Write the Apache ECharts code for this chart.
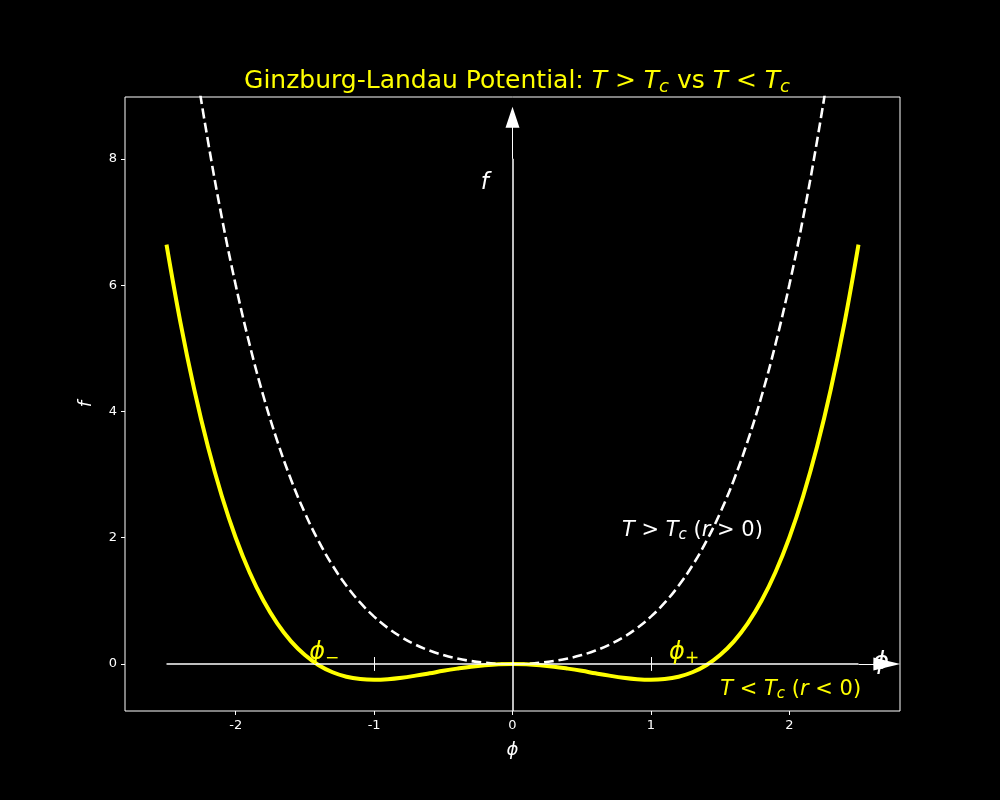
<!DOCTYPE html>
<html>
<head>
<meta charset="utf-8">
<script src="https://cdn.jsdelivr.net/npm/echarts@6/dist/echarts.min.js"></script>
<style>
  html, body { margin: 0; padding: 0; background: #000; }
  #main { width: 1000px; height: 800px; }
</style>
</head>
<body>
<div id="main"></div>
<script>
// order parameter values (x)
const phi = [-2.5, -2.4, -2.3, -2.2, -2.1, -2.0, -1.9, -1.8, -1.7, -1.6, -1.5, -1.4, -1.3, -1.2, -1.1, -1.0,
  -0.9, -0.8, -0.7, -0.6, -0.5, -0.4, -0.3, -0.2, -0.1, 0, 0.1, 0.2, 0.3, 0.4, 0.5, 0.6, 0.7, 0.8, 0.9,
  1.0, 1.1, 1.2, 1.3, 1.4, 1.5, 1.6, 1.7, 1.8, 1.9, 2.0, 2.1, 2.2, 2.3, 2.4, 2.5];
// T < Tc, yellow solid curve (double well)
const fBelow = [6.641, 5.414, 4.351, 3.436, 2.657, 2.0, 1.453, 1.004, 0.643, 0.358, 0.141, -0.020, -0.131, -0.202, -0.239, -0.25,
  -0.241, -0.218, -0.185, -0.148, -0.109, -0.074, -0.043, -0.020, -0.005, 0, -0.005, -0.020, -0.043, -0.074, -0.109, -0.148, -0.185, -0.218, -0.241,
  -0.25, -0.239, -0.202, -0.131, -0.020, 0.141, 0.358, 0.643, 1.004, 1.453, 2.0, 2.657, 3.436, 4.351, 5.414, 6.641];
// T > Tc, white dashed curve (single well)
const fAbove = [12.891, 11.174, 9.641, 8.276, 7.067, 6.0, 5.063, 4.244, 3.533, 2.918, 2.391, 1.940, 1.559, 1.238, 0.971, 0.75,
  0.569, 0.422, 0.305, 0.212, 0.141, 0.086, 0.047, 0.020, 0.005, 0, 0.005, 0.020, 0.047, 0.086, 0.141, 0.212, 0.305, 0.422, 0.569,
  0.75, 0.971, 1.238, 1.559, 1.940, 2.391, 2.918, 3.533, 4.244, 5.063, 6.0, 7.067, 8.276, 9.641, 11.174, 12.891];

const xTicks = [-2, -1, 0, 1, 2];
const yTicks = [0, 2, 4, 6, 8];
const minimaTicks = [-1, 1];

const YELLOW = '#ffff00';
const FONT = 'DejaVu Sans';

var chart = echarts.init(document.getElementById('main'));

function zip(xs, ys) {
  return xs.map(function (x, i) { return [x, ys[i]]; });
}

// rich text styles for mathtext-like labels
function richStyles(color, size) {
  return {
    i: { fontFamily: FONT, fontStyle: 'italic', fontWeight: 'normal', fontSize: size, color: color },
    n: { fontFamily: FONT, fontWeight: 'normal', fontSize: size, color: color },
    s: { fontFamily: FONT, fontStyle: 'italic', fontWeight: 'normal', fontSize: Math.round(size * 0.7), color: color, padding: [Math.round(size * 0.45), 0, 0, 0] }
  };
}

// a text label pinned to data coordinates
function textLabel(x, y, text, color, size) {
  return {
    type: 'scatter',
    silent: true,
    symbolSize: 0,
    z: 5,
    itemStyle: { opacity: 1 },
    data: [[x, y]],
    label: {
      show: true,
      position: 'inside',
      opacity: 1,
      formatter: text,
      rich: richStyles(color, size)
    }
  };
}

var segStyle = { color: '#fff', width: 1.5, type: 'solid' };

chart.setOption({
  backgroundColor: '#000',
  animation: false,
  title: {
    text: '{n|Ginzburg-Landau Potential: }{i|T}{n| > }{i|T}{s|c}{n| vs }{i|T}{n| < }{i|T}{s|c}',
    left: 512,
    textAlign: 'center',
    top: 62,
    textStyle: { fontWeight: 'normal', rich: richStyles(YELLOW, 25) }
  },
  grid: {
    left: 125, right: 100, top: 97, bottom: 89,
    outerBoundsMode: 'none',
    show: true,
    borderColor: '#fff',
    borderWidth: 1,
    backgroundColor: '#000'
  },
  xAxis: {
    type: 'value',
    min: -2.8, max: 2.8,
    name: 'ϕ',
    nameLocation: 'middle',
    nameGap: 30,
    nameTextStyle: { color: '#fff', fontFamily: FONT, fontStyle: 'italic', fontSize: 18 },
    axisLine: { show: false, onZero: false },
    axisTick: { show: true, customValues: xTicks, length: 4, lineStyle: { color: '#fff' } },
    axisLabel: { customValues: xTicks, color: '#fff', fontFamily: FONT, fontSize: 13, margin: 8 },
    splitLine: { show: false }
  },
  yAxis: {
    type: 'value',
    min: -0.745, max: 8.98,
    name: 'f',
    nameLocation: 'middle',
    nameGap: 30,
    nameTextStyle: { color: '#fff', fontFamily: FONT, fontStyle: 'italic', fontSize: 18 },
    axisLine: { show: false, onZero: false },
    axisTick: { show: true, customValues: yTicks, length: 4, lineStyle: { color: '#fff' } },
    axisLabel: { customValues: yTicks, color: '#fff', fontFamily: FONT, fontSize: 13, margin: 8 },
    splitLine: { show: false }
  },
  series: [
    {
      // coordinate axes drawn inside the plot
      type: 'line',
      data: [],
      silent: true,
      z: 1,
      markLine: {
        silent: true,
        symbol: ['none', 'none'],
        label: { show: false },
        lineStyle: segStyle,
        data: [
          [{ coord: [-2.5, 0] }, { coord: [2.5, 0] }],
          [{ coord: [2.5, 0], lineStyle: { width: 1 } }, { coord: [2.72, 0] }],
          [{ coord: [0, -0.745] }, { coord: [0, 8] }],
          [{ coord: [0, 8], lineStyle: { width: 1 } }, { coord: [0, 8.6] }]
        ].concat(minimaTicks.map(function (t) {
          return [{ coord: [t, -0.11], lineStyle: { width: 1 } }, { coord: [t, 0.11] }];
        }))
      }
    },
    {
      type: 'scatter',
      silent: true,
      z: 2,
      symbol: 'triangle',
      symbolSize: [13, 27],
      symbolRotate: -90,
      itemStyle: { color: '#fff', opacity: 1 },
      data: [[2.705, 0]]
    },
    {
      type: 'scatter',
      silent: true,
      z: 2,
      symbol: 'triangle',
      symbolSize: [14, 21],
      itemStyle: { color: '#fff', opacity: 1 },
      data: [[0, 8.66]]
    },
    {
      name: 'T > Tc',
      type: 'line',
      data: zip(phi, fAbove),
      smooth: 0.4,
      showSymbol: false,
      clip: true,
      z: 3,
      lineStyle: { color: '#fff', width: 2.6, type: [10, 4.5] }
    },
    {
      name: 'T < Tc',
      type: 'line',
      data: zip(phi, fBelow),
      smooth: 0.4,
      showSymbol: false,
      clip: true,
      z: 4,
      lineStyle: { color: YELLOW, width: 4 }
    },
    textLabel(-0.2, 7.62, '{i|f}', '#fff', 23),
    textLabel(2.66, 0.02, '{i|ϕ}', '#fff', 25),
    textLabel(-1.36, 0.17, '{i|ϕ}{s|−}', YELLOW, 24),
    textLabel(1.24, 0.17, '{i|ϕ}{s|+}', YELLOW, 24),
    textLabel(1.30, 2.11, '{i|T}{n| > }{i|T}{s|c}{n| (}{i|r}{n| > 0)}', '#fff', 21),
    textLabel(2.01, -0.40, '{i|T}{n| < }{i|T}{s|c}{n| (}{i|r}{n| < 0)}', YELLOW, 21)
  ]
});
</script>
</body>
</html>
